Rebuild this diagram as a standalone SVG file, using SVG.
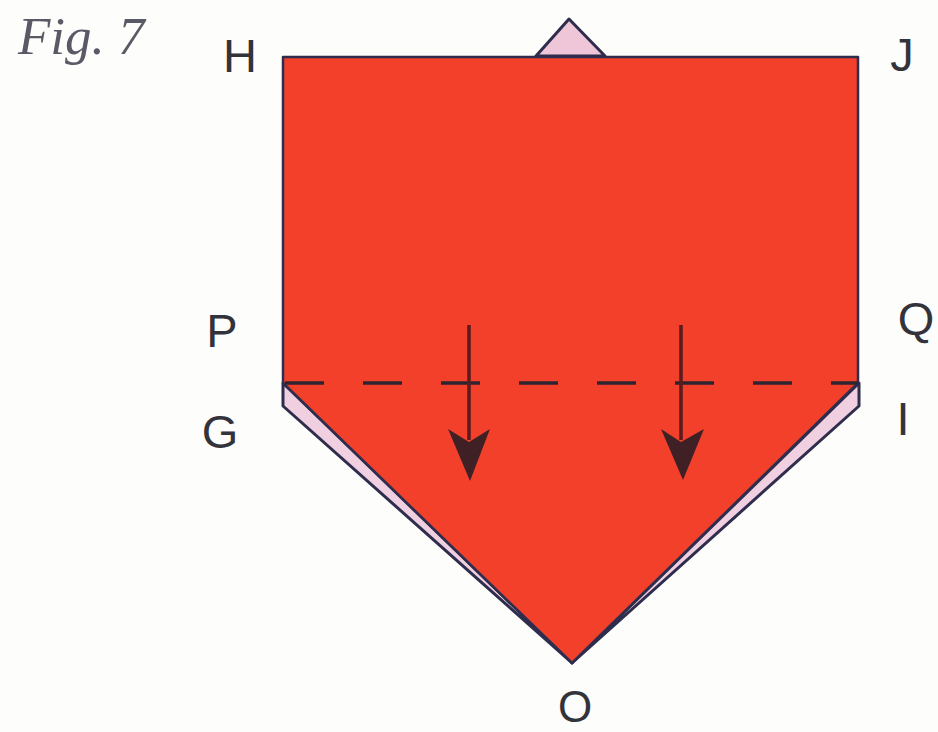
<svg xmlns="http://www.w3.org/2000/svg" width="938" height="732" viewBox="0 0 938 732">
<style>
.l{font-family:"Liberation Sans",Arial,sans-serif;font-size:47px;fill:#33333c;text-anchor:middle}
.e{stroke:#2f2d4d;stroke-width:3;stroke-linejoin:round}
.a{stroke:#5a1a1e;stroke-width:3.5;fill:none}
.h{fill:#3f2125}
</style>
<rect width="938" height="732" fill="#fdfdfb"/>
<g id="flap-top"><polygon class="e" points="536,56 569,19 605,56" fill="#eec6d8"/></g>
<g id="flap-left"><polygon class="e" points="283,383 283,406 572,663" fill="#f0d0e0"/></g>
<g id="flap-right"><polygon class="e" points="859,383 859,406 572,663" fill="#f0d0e0"/></g>
<g id="paper"><polygon points="283,57 858,57 858,383 572,663 283,383" fill="#f2402b" stroke="#2f2d4d" stroke-width="2.5" stroke-linejoin="round"/></g>
<g id="connectors">
<line x1="285" y1="383" x2="858" y2="383" stroke="#2e2430" stroke-width="3.5" stroke-dasharray="39 39"/>
<line class="a" x1="469" y1="325" x2="469" y2="440"/>
<polygon class="h" points="448,429 469,442 490,429 470,481"/>
<line class="a" x1="681" y1="325" x2="681" y2="440"/>
<polygon class="h" points="661,429 681,442 704,429 683,480"/>
</g>
<text x="18" y="54" font-family="'Liberation Serif',serif" font-style="italic" font-size="53" fill="#5a5a66">Fig. 7</text>
<g id="H"><text class="l" x="240" y="72">H</text></g>
<g id="J"><text class="l" x="902" y="71">J</text></g>
<g id="P"><text class="l" x="222" y="347">P</text></g>
<g id="Q"><text class="l" x="916" y="335">Q</text></g>
<g id="G"><text class="l" x="220" y="448">G</text></g>
<g id="I"><text class="l" x="903" y="435">I</text></g>
<g id="O"><text class="l" x="575" y="722" style="font-size:44px">O</text></g>
</svg>
